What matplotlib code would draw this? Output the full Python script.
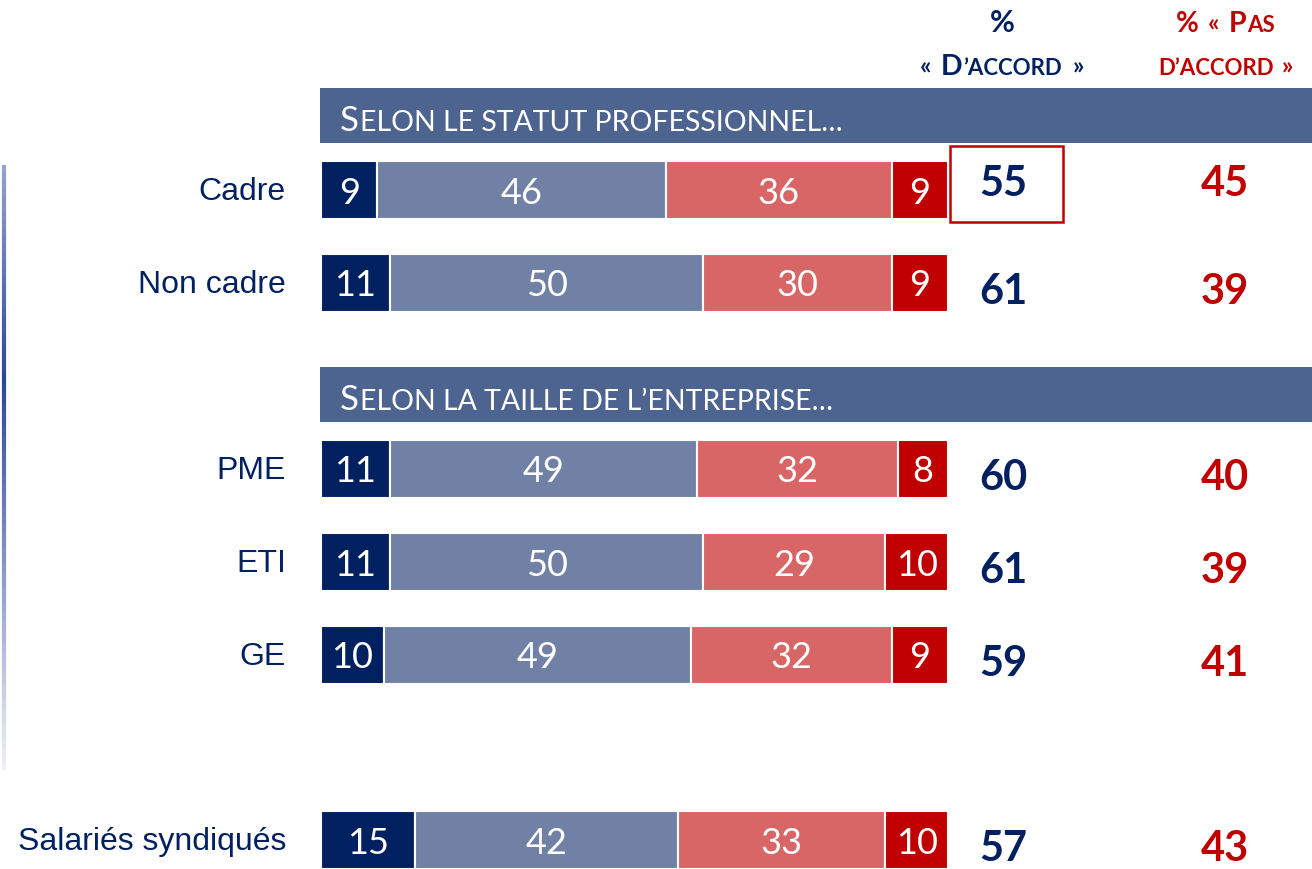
import numpy as np
import matplotlib.pyplot as plt
from matplotlib.collections import LineCollection
from matplotlib.patches import Rectangle

# données
labels = ["Cadre", "Non cadre", "PME", "ETI", "GE", "Salariés syndiqués"]
tres_daccord = [9, 11, 11, 11, 10, 15]
plutot_daccord = [46, 50, 49, 50, 49, 42]
plutot_pas = [36, 30, 32, 29, 32, 33]
pas_du_tout = [9, 9, 8, 10, 9, 10]
total_accord = [55, 61, 60, 61, 59, 57]
total_pas = [45, 39, 40, 39, 41, 43]

NAVY = "#002060"
SLATE = "#7181A6"
SALMON = "#D96666"
RED = "#C00000"
BAND = "#4D6490"
FONT = ["Lato", "DejaVu Sans"]

rows_y = [190, 283, 469, 562, 655, 840]   # centres des barres (px depuis le haut)
bar_h = 58

fig = plt.figure(figsize=(13.12, 8.69), dpi=100)
lay = fig.add_axes([0, 0, 1, 1])
lay.set_xlim(0, 1312)
lay.set_ylim(869, 0)
lay.axis("off")

ax = fig.add_axes([321 / 1312, 0, 627 / 1312, 1])
ax.set_xlim(0, 100)
ax.set_ylim(869, 0)
ax.axis("off")

renderer = fig.canvas.get_renderer()


def smallcaps(parts, x, y, color, weight="normal", ha="left"):
    # parts : liste de (texte, taille) ou (None, écart en px)
    items = []
    total = 0
    for s, v in parts:
        if s is None:
            items.append((None, v))
            total += v
            continue
        t = lay.text(0, y, s, fontsize=v, color=color, fontweight=weight,
                     family=FONT, va="baseline", ha="left")
        w = t.get_window_extent(renderer).width + 1
        items.append((t, w))
        total += w
    cur = x - total / 2 if ha == "center" else x
    for t, w in items:
        if t is not None:
            t.set_x(cur)
        cur += w


# bandeaux de section
for top, first, rest in [(88, "S", "ELON LE STATUT PROFESSIONNEL…"),
                         (367, "S", "ELON LA TAILLE DE L’ENTREPRISE…")]:
    lay.add_patch(Rectangle((320, top), 992, 55, color=BAND, lw=0))
    smallcaps([(first, 25), (rest, 20.5)], 340, top + 43, "white")

# en-têtes de colonnes
lay.text(1002, 32, "%", fontsize=22, color=NAVY, fontweight="bold",
         family=FONT, ha="center", va="baseline")
smallcaps([("«", 18), (None, 9), ("D", 20.5), ("’ACCORD", 16), (None, 9), ("»", 18)],
          1002, 75, NAVY, "bold", "center")
smallcaps([("%", 20), (None, 8), ("«", 18), (None, 9), ("P", 20.5), ("AS", 16)],
          1226, 32, RED, "bold", "center")
smallcaps([("D’ACCORD", 16), (None, 7), ("»", 18)], 1226, 75, RED, "bold", "center")

# barres empilées
segments = [tres_daccord, plutot_daccord, plutot_pas, pas_du_tout]
colors = [NAVY, SLATE, SALMON, RED]
left = np.zeros(len(labels))
for vals, c in zip(segments, colors):
    vals = np.array(vals)
    ax.barh(rows_y, vals, left=left, height=bar_h, color=c,
            edgecolor="white", linewidth=1.5)
    for y, l, v in zip(rows_y, left, vals):
        ax.text(l + v / 2, y + 3, str(v), color="white", fontsize=26,
                family=FONT, ha="center", va="center")
    left += vals

# libellés des lignes
for y, lab in zip(rows_y, labels):
    lay.text(286, y + 2, lab, color=NAVY, fontsize=23, family="Liberation Sans",
             ha="right", va="center")

# totaux
for i, (y, a, p) in enumerate(zip(rows_y, total_accord, total_pas)):
    dy = -6 if i == 0 else 9
    lay.text(1003, y + dy, str(a), color=NAVY, fontsize=30, fontweight="bold",
             family=FONT, ha="center", va="center")
    lay.text(1225, y + dy, str(p), color=RED, fontsize=30, fontweight="bold",
             family=FONT, ha="center", va="center")

# cadre autour du premier total
lay.add_patch(Rectangle((950, 146), 113, 76, fill=False, edgecolor=RED, lw=1.8))

# filet vertical dégradé à gauche
ys = np.linspace(165, 770, 200)
pts = np.array([[4, v] for v in ys]).reshape(-1, 1, 2)
segs = np.concatenate([pts[:-1], pts[1:]], axis=1)
mid = (ys[:-1] + ys[1:]) / 2
alpha = np.clip(1 - np.abs(mid - 380) / 420, 0, 1)
rgba = np.zeros((len(mid), 4))
rgba[:, 0], rgba[:, 1], rgba[:, 2] = 0.17, 0.27, 0.62
rgba[:, 3] = alpha
lay.add_collection(LineCollection(segs, colors=rgba, linewidths=3))

fig.savefig("out.png", dpi=100)
